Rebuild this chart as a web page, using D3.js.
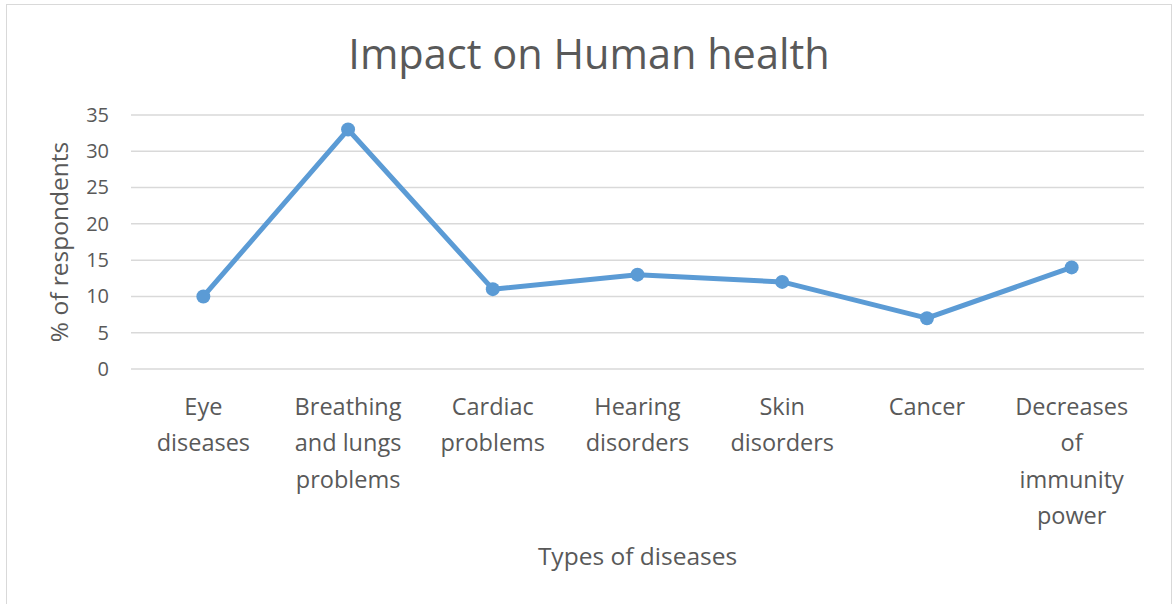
<!DOCTYPE html>
<html>
<meta charset="utf-8">
<style>
body { margin: 0; background: #fff; }
text { font-family: "Open Sans", sans-serif; fill: #595959; }
</style>
<body>
<script src="https://cdnjs.cloudflare.com/ajax/libs/d3/7.8.5/d3.min.js"></script>
<script>
var width = 1173,
    height = 604;

// chart data
var categories = [
  ["Eye", "diseases"],
  ["Breathing", "and lungs", "problems"],
  ["Cardiac", "problems"],
  ["Hearing", "disorders"],
  ["Skin", "disorders"],
  ["Cancer"],
  ["Decreases", "of", "immunity", "power"]
];
var values = [10, 33, 11, 13, 12, 7, 14];
var yTicks = [0, 5, 10, 15, 20, 25, 30, 35];

var margin = {left: 131, right: 29, top: 115, bottom: 235};

var svg = d3.select("body").append("svg")
    .attr("width", width)
    .attr("height", height);

// chart border
svg.append("rect")
    .attr("x", 6.5).attr("y", 4.5)
    .attr("width", 1165).attr("height", 610)
    .style("fill", "none")
    .style("stroke", "#d9d9d9");

var x = d3.scaleBand()
    .domain(d3.range(categories.length))
    .range([margin.left, width - margin.right]);

var y = d3.scaleLinear()
    .domain([0, 35])
    .range([height - margin.bottom, margin.top]);

// grid
svg.append("g")
    .selectAll("line")
    .data(yTicks)
    .enter().append("line")
    .attr("x1", margin.left).attr("x2", width - margin.right)
    .attr("y1", function(d) { return y(d); })
    .attr("y2", function(d) { return y(d); })
    .style("stroke", "#d9d9d9")
    .style("stroke-width", 1.5);

// y axis labels
var yAxis = d3.axisLeft(y).tickValues(yTicks).tickSize(0).tickPadding(22);
var gy = svg.append("g")
    .attr("transform", "translate(" + margin.left + ",0)")
    .call(yAxis);
gy.select(".domain").remove();
gy.selectAll("text")
    .style("font-family", "'Open Sans', sans-serif")
    .style("font-size", "20px")
    .style("fill", "#595959");

// x labels
var xl = svg.append("g")
    .selectAll("text")
    .data(categories)
    .enter().append("text")
    .attr("text-anchor", "middle")
    .attr("x", function(d, i) { return x(i) + x.bandwidth() / 2; })
    .attr("y", 415)
    .style("font-size", "23.5px");
xl.selectAll("tspan")
    .data(function(d) { return d; })
    .enter().append("tspan")
    .attr("x", function() { return d3.select(this.parentNode).attr("x"); })
    .attr("dy", function(d, i) { return i === 0 ? 0 : 36.3; })
    .text(function(d) { return d; });

// line
var line = d3.line()
    .x(function(d, i) { return x(i) + x.bandwidth() / 2; })
    .y(function(d) { return y(d); });

svg.append("path")
    .datum(values)
    .attr("d", line)
    .style("fill", "none")
    .style("stroke", "#5b9bd5")
    .style("stroke-width", 5)
    .style("stroke-linejoin", "round");

svg.selectAll(".pt")
    .data(values)
    .enter().append("circle")
    .attr("class", "pt")
    .attr("cx", function(d, i) { return x(i) + x.bandwidth() / 2; })
    .attr("cy", function(d) { return y(d); })
    .attr("r", 7)
    .style("fill", "#5b9bd5");

// title
svg.append("text")
    .attr("x", 589).attr("y", 69)
    .attr("text-anchor", "middle")
    .style("font-size", "41.5px")
    .text("Impact on Human health");

// axis titles
svg.append("text")
    .attr("x", (margin.left + width - margin.right) / 2).attr("y", 565)
    .attr("text-anchor", "middle")
    .style("font-size", "24.5px")
    .text("Types of diseases");

svg.append("text")
    .attr("transform", "translate(68," + (y(17.5)) + ") rotate(-90)")
    .attr("text-anchor", "middle")
    .style("font-size", "24.5px")
    .text("% of respondents");
</script>
</body>
</html>
